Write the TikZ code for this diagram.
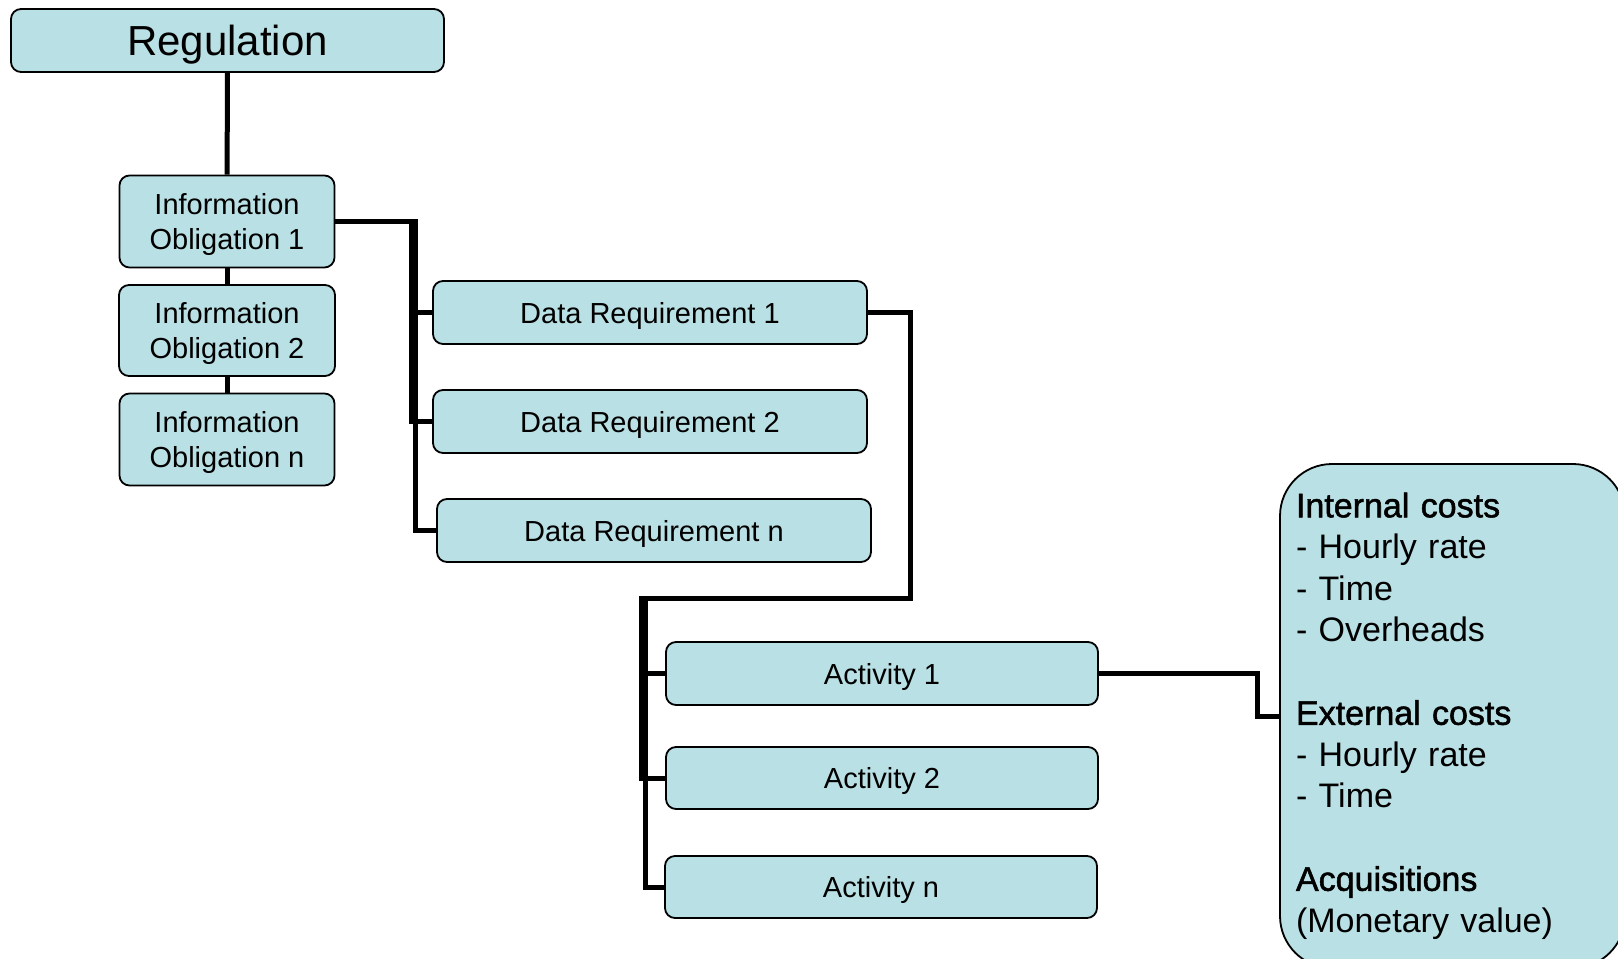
\documentclass[tikz,border=0pt]{standalone}
\usepackage{fontspec}
\setmainfont{Liberation Sans}
\newfontfamily\headfont{Liberation Sans}[FakeBold=1.5]
\definecolor{boxblue}{RGB}{185,224,228}
\tikzset{
  shape box/.style={draw=black, line width=1.8pt, fill=boxblue, rounded corners=10pt,
    inner sep=0pt, align=center, font=\fontsize{29}{35}\selectfont},
  box/.style={shape box, text depth=0pt},
  costbox/.style={shape box, rounded corners=52pt, align=left, font=\fontsize{34}{41.5}\selectfont},
  link/.style={line width=5pt},
}
\begin{document}
\begin{tikzpicture}[x=1pt, y=-1pt, node distance=109pt]
  \useasboundingbox (0,0) rectangle (1618,959);
  \clip (0,0) rectangle (1618,959);

  \node[box, minimum width=433pt, minimum height=63pt, font=\fontsize{42}{48}\selectfont] (reg) at (227.5,40.5) {Regulation};

  \node[box, minimum width=215pt, minimum height=92pt] (io1) at (227,221.5) {Information\\Obligation 1};
  \node[box, minimum width=216pt, minimum height=91pt, below of=io1] (io2) {Information\\Obligation 2};
  \node[box, minimum width=215pt, minimum height=92pt, below of=io2] (ion) {Information\\Obligation n};

  \node[box, minimum width=434pt, minimum height=63pt] (dr1) at (650,312.5) {Data Requirement 1};
  \node[box, minimum width=434pt, minimum height=63pt, below of=dr1] (dr2) {Data Requirement 2};
  \node[box, minimum width=434pt, minimum height=63pt, below of=dr2, xshift=4pt] (drn) {Data Requirement n};

  \node[box, minimum width=432pt, minimum height=63pt] (act1) at (882,673.5) {Activity 1};
  \node[box, minimum width=432pt, minimum height=62pt, below of=act1, yshift=4.5pt] (act2) {Activity 2};
  \node[box, minimum width=432pt, minimum height=62pt, below of=act2, xshift=-1pt] (actn) {Activity n};

  \node[costbox, minimum width=345pt, minimum height=504pt, text width=313pt] (cost) at (1452.5,716)
    {{\headfont Internal costs}\\- Hourly rate\\- Time\\- Overheads\\[41.5pt]{\headfont External costs}\\- Hourly rate\\- Time\\[41.5pt]{\headfont Acquisitions}\\(Monetary value)};

  \coordinate (split) at (641,598);
  \coordinate (splitn) at (645,598);

  \draw[link] (reg) -- (io1);
  \draw[link] (io1) -- (io2);
  \draw[link] (io2) -- (ion);

  \draw[link] (io1.east) -- ++(76,0) |- (dr1.west);
  \draw[link] (io1.east) -- ++(76,0) |- (dr2.west);
  \draw[link] (io1.east) -- ++(80,0) |- (drn.west);

  \draw[link] (dr1.east) -- ++(43,0) |- (split) |- (act1.west);
  \draw[link] (dr1.east) -- ++(43,0) |- (split) |- (act2.west);
  \draw[link] (dr1.east) -- ++(43,0) |- (splitn) |- (actn.west);

  \draw[link] (act1.east) -- ++(159,0) |- (cost.west);
\end{tikzpicture}
\end{document}
